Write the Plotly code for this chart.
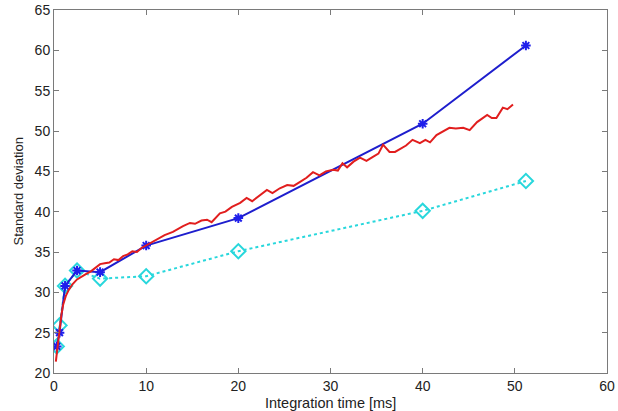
import plotly.graph_objects as go

# Data
t_pts = [0.3, 0.6, 1.2, 2.5, 5, 10, 20, 40, 51.2]
blue_vals = [23.3, 25.0, 30.8, 32.7, 32.5, 35.8, 39.2, 50.9, 60.6]
cyan_vals = [23.3, 25.9, 30.8, 32.7, 31.7, 32.0, 35.1, 40.1, 43.8]

red_t = [0.2, 0.4, 0.6, 0.8, 1.0, 1.3, 1.6, 2.0, 2.5, 3.0, 3.5, 4.0, 4.5, 5.0,
         5.5, 6.0, 6.5, 7.0, 7.5, 8.0, 8.5, 9.0, 9.5, 10.0, 10.7, 11.3, 12.0,
         12.9, 13.5, 14.0, 14.75, 15.3, 16.0, 16.6, 17.1, 18.0, 18.6, 19.3,
         20.2, 20.9, 21.5, 22.2, 23.1, 23.7, 24.5, 25.3, 26.0, 26.7, 27.4,
         28.1, 28.8, 29.5, 30.3, 30.8, 31.3, 31.8, 32.5, 33.2, 33.9, 34.6,
         35.2, 35.7, 36.4, 37.0, 37.5, 38.2, 38.9, 39.7, 40.3, 40.8, 41.5,
         42.2, 42.9, 43.6, 44.4, 45.1, 45.9, 46.4, 47.0, 47.5, 48.0, 48.7,
         49.2, 49.8]
red_vals = [21.4, 23.4, 25.5, 27.2, 28.5, 29.6, 30.3, 31.0, 31.6, 32.0, 32.3,
            32.6, 33.0, 33.5, 33.6, 33.7, 34.1, 34.0, 34.5, 34.7, 35.1, 35.0,
            35.5, 35.8, 36.3, 36.6, 37.1, 37.5, 37.9, 38.2, 38.6, 38.5, 38.9,
            39.0, 38.7, 39.8, 40.0, 40.6, 41.1, 41.7, 41.3, 41.9, 42.7, 42.3,
            42.9, 43.3, 43.2, 43.7, 44.2, 44.9, 44.5, 45.0, 45.2, 45.1, 46.0,
            45.5, 46.2, 46.7, 46.3, 46.8, 47.2, 48.3, 47.4, 47.4, 47.7, 48.2,
            48.9, 48.5, 48.9, 48.6, 49.5, 49.9, 50.4, 50.3, 50.4, 50.1, 51.1,
            51.5, 52.0, 51.6, 51.6, 52.9, 52.7, 53.3]

x_ticks = [0, 10, 20, 30, 40, 50, 60]
y_ticks = [20, 25, 30, 35, 40, 45, 50, 55, 60, 65]
x_title = "Integration time [ms]"
y_title = "Standard deviation"

FONT = "Liberation Sans, Arial, sans-serif"

fig = go.Figure()
fig.add_trace(go.Scatter(
    x=t_pts, y=cyan_vals, mode="lines+markers",
    line=dict(color="rgb(40,215,220)", width=2, dash="dot"),
    marker=dict(symbol="diamond-open", size=11, color="rgb(40,215,220)",
                line=dict(width=2, color="rgb(40,215,220)")),
    showlegend=False))
fig.add_trace(go.Scatter(
    x=t_pts, y=blue_vals, mode="lines+markers",
    line=dict(color="rgb(30,30,205)", width=2),
    marker=dict(symbol="asterisk-open", size=8, color="rgb(30,30,235)",
                line=dict(width=2, color="rgb(30,30,235)")),
    showlegend=False))
fig.add_trace(go.Scatter(
    x=red_t, y=red_vals, mode="lines",
    line=dict(color="rgb(225,30,30)", width=2),
    showlegend=False))

axis_common = dict(
    showgrid=False, zeroline=False, showline=True, linecolor="#7a7a7a",
    linewidth=1, mirror="ticks", ticks="inside", ticklen=5, automargin=False,
    tickcolor="#7a7a7a", tickfont=dict(family=FONT, size=14, color="#222"),
)
fig.update_xaxes(range=[0, 60], tickvals=x_ticks, **axis_common)
fig.update_yaxes(range=[20, 65], tickvals=y_ticks, **axis_common)
fig.update_layout(
    width=618, height=411,
    margin=dict(l=54, r=11, t=10, b=38),
    paper_bgcolor="white", plot_bgcolor="white",
    annotations=[
        dict(text=x_title, xref="paper", yref="paper", x=0.5, y=0,
             yshift=-30, xanchor="center", yanchor="middle", showarrow=False,
             font=dict(family=FONT, size=14.5, color="#222")),
        dict(text=y_title, xref="paper", yref="paper", x=0, y=0.5,
             xshift=-36, xanchor="center", yanchor="middle", showarrow=False,
             textangle=-90, font=dict(family=FONT, size=13, color="#222")),
    ],
)
fig.write_html(
    "out.html",
    config={"displayModeBar": False},
    post_script="document.body.style.margin='0';document.body.style.overflow='hidden';",
)
